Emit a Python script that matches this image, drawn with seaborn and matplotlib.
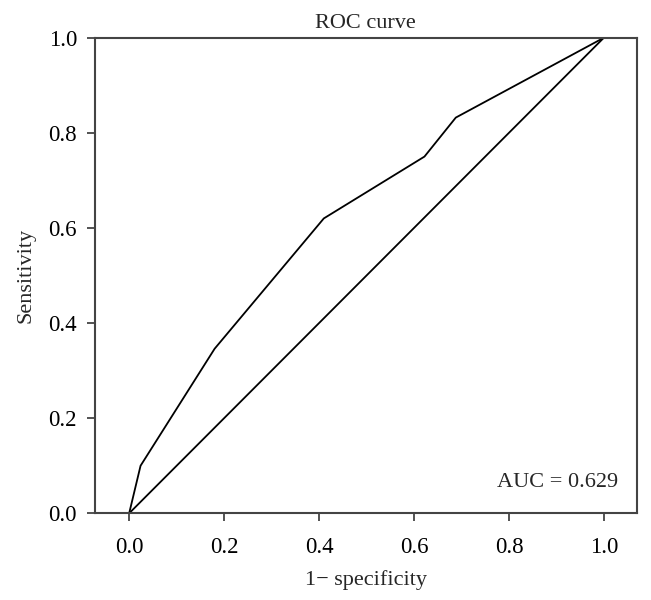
"""ROC curve with chance diagonal, seaborn/matplotlib Agg."""

import matplotlib
matplotlib.use("Agg")
import matplotlib.pyplot as plt
import pandas as pd
import seaborn as sns

# ROC operating points
fpr = [0.0, 0.024, 0.18, 0.41, 0.622, 0.688, 1.0]
tpr = [0.0, 0.10, 0.346, 0.62, 0.75, 0.832, 1.0]
chance = [0.0, 1.0]
auc_value = 0.629
x_ticks = [0.0, 0.2, 0.4, 0.6, 0.8, 1.0]
y_ticks = [0.0, 0.2, 0.4, 0.6, 0.8, 1.0]

sns.set_theme(style="ticks")
plt.rcParams["font.family"] = ["Liberation Serif", "DejaVu Serif"]

roc_df = pd.DataFrame({"fpr": fpr, "tpr": tpr})
diag_df = pd.DataFrame({"x": chance, "y": chance})

fig = plt.figure(figsize=(6.51, 6.0), dpi=100)
ax = fig.add_axes([0.1459, 0.1445, 0.8321, 0.7927])

sns.lineplot(data=roc_df, x="fpr", y="tpr", ax=ax, color="black", lw=1.3,
             sort=False, estimator=None)
sns.lineplot(data=diag_df, x="x", y="y", ax=ax, color="black", lw=1.3,
             sort=False, estimator=None)

ax.set_xlim(-0.072, 1.069)
ax.set_ylim(0.0, 1.0)
ax.set_xticks(x_ticks)
ax.set_yticks(y_ticks)
ax.set_xticklabels([f"{t:.1f}" for t in x_ticks])
ax.set_yticklabels([f"{t:.1f}" for t in y_ticks])

for side in ax.spines.values():
    side.set_color("#444444")
    side.set_linewidth(1.5)
ax.tick_params(axis="both", length=6, width=1.3, color="#444444",
               labelsize=16.5, labelcolor="black")
ax.tick_params(axis="x", pad=11)
ax.tick_params(axis="y", pad=7)

ax.set_title("ROC curve", fontsize=16, pad=7)
ax.set_xlabel("1\u2212 specificity", fontsize=16, labelpad=9)
ax.set_ylabel("Sensitivity", fontsize=16, labelpad=9)
ax.text(1.03, 0.055, f"AUC = {auc_value}", ha="right", va="baseline",
        fontsize=16)

fig.savefig("out.png", dpi=100)
plt.close(fig)
